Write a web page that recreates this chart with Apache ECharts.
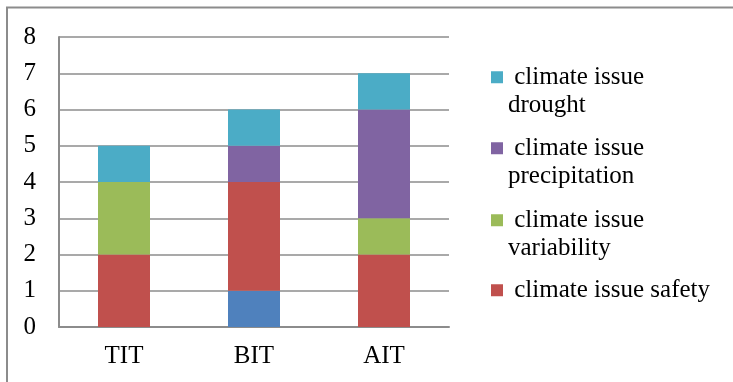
<!DOCTYPE html>
<html>
<head>
<meta charset="utf-8">
<script src="https://cdn.jsdelivr.net/npm/echarts@6/dist/echarts.min.js"></script>
<style>
  html, body { margin: 0; padding: 0; background: #fff; }
  #chart { width: 733px; height: 382px; }
</style>
</head>
<body>
<div id="chart"></div>
<script>
// categories and values (stacked, bottom to top)
const categories = ['TIT', 'BIT', 'AIT'];
const otherValues = [0, 1, 0];          // blue segment, not shown in legend
const safetyValues = [2, 3, 2];
const variabilityValues = [2, 0, 1];
const precipitationValues = [0, 1, 3];
const droughtValues = [1, 1, 1];
const yTicks = [0, 1, 2, 3, 4, 5, 6, 7, 8];

const FONT = '"Liberation Serif", "Times New Roman", serif';

const chart = echarts.init(document.getElementById('chart'));

const mkSeries = (name, data, color) => ({
  name: name,
  type: 'bar',
  stack: 'total',
  data: data,
  barWidth: 52,
  itemStyle: { color: color },
  emphasis: { disabled: true }
});

// one legend per entry; a blank first line keeps the marker level with the first text line
const mkLegend = (name, label, top) => ({
  data: [name],
  left: 486,
  top: top,
  itemWidth: 12,
  itemHeight: 12,
  itemGap: 0,
  selectedMode: false,
  icon: 'rect',
  formatter: () => label,
  textStyle: {
    fontFamily: FONT,
    fontSize: 25,
    color: '#000',
    lineHeight: 28.5
  }
});

const option = {
  animation: false,
  backgroundColor: '#fff',
  grid: { left: 59, right: 284, top: 37, bottom: 55 },
  legend: [
    mkLegend('climate issue drought', '\n climate issue\ndrought', 29.5),
    mkLegend('climate issue precipitation', '\n climate issue\nprecipitation', 100.5),
    mkLegend('climate issue variability', '\n climate issue\nvariability', 172.5),
    mkLegend('climate issue safety', ' climate issue safety', 271)
  ],
  xAxis: {
    type: 'category',
    data: categories,
    axisLine: { lineStyle: { color: '#8c8c8c', width: 2 } },
    axisTick: { show: false },
    axisLabel: { fontFamily: FONT, fontSize: 25, color: '#000', margin: 17 }
  },
  yAxis: {
    type: 'value',
    min: yTicks[0],
    max: yTicks[yTicks.length - 1],
    interval: 1,
    axisLine: { show: true, lineStyle: { color: '#8c8c8c', width: 2 } },
    axisTick: { show: false },
    splitLine: { lineStyle: { color: '#8c8c8c', width: 1.5 } },
    axisLabel: { fontFamily: FONT, fontSize: 25, color: '#000', margin: 23 }
  },
  series: [
    mkSeries('climate issue other', otherValues, '#4F81BD'),
    mkSeries('climate issue safety', safetyValues, '#C0504D'),
    mkSeries('climate issue variability', variabilityValues, '#9BBB59'),
    mkSeries('climate issue precipitation', precipitationValues, '#8064A2'),
    mkSeries('climate issue drought', droughtValues, '#4BACC6')
  ],
  graphic: [{
    type: 'polyline',
    shape: { points: [[7, 382], [7, 7.5], [733, 7.5]] },
    style: { stroke: '#8c8c8c', lineWidth: 2, fill: null },
    silent: true
  }]
};

chart.setOption(option);
</script>
</body>
</html>
